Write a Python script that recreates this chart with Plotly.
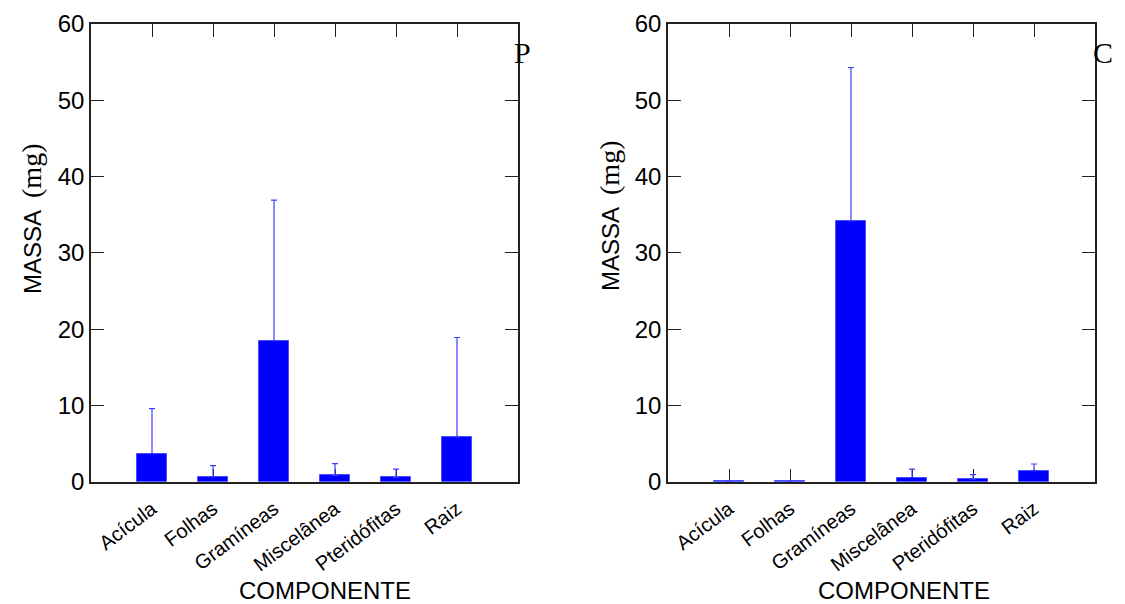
import plotly.graph_objects as go

categories = ["Acícula", "Folhas", "Gramíneas", "Miscelânea", "Pteridófitas", "Raiz"]
p_mean = [3.67, 0.66, 18.5, 0.84, 0.58, 5.86]
p_err_top = [9.57, 2.1, 36.9, 2.36, 1.66, 18.9]
c_mean = [0.05, 0.05, 34.2, 0.55, 0.33, 1.45]
c_err_top = [0.05, 0.05, 54.3, 1.64, 0.92, 2.32]
y_ticks = [0, 10, 20, 30, 40, 50, 60]
panel_labels = ["P", "C"]

x_idx = list(range(len(categories)))

fig = go.Figure()

def add_panel(mean, err_top, xa, ya):
    err = [t - m for t, m in zip(err_top, mean)]
    fig.add_trace(go.Bar(
        x=x_idx, y=mean, width=0.5,
        marker=dict(color="#0000ff", line=dict(color="#4d4dff", width=1)),
        error_y=dict(type="data", array=err, arrayminus=[0] * len(err), symmetric=False,
                     color="#3c3cff", thickness=1.2, width=3),
        xaxis=xa, yaxis=ya, showlegend=False, hoverinfo="skip",
    ))

add_panel(p_mean, p_err_top, "x", "y")
add_panel(c_mean, c_err_top, "x2", "y2")

xcommon = dict(range=[-1, 6], tickvals=x_idx, ticktext=categories, ticks="inside",
               ticklen=13, tickwidth=1.3, tickcolor="#222", showline=True, linecolor="#222",
               linewidth=1.5, mirror="allticks", tickangle=-37, showgrid=False, zeroline=False,
               tickfont=dict(family="Liberation Sans, Arial", size=20, color="black"),
               layer="below traces", automargin=False, ticklabelstandoff=6)
ycommon = dict(range=[0, 60], tickvals=y_ticks, ticks="inside", ticklen=13, tickwidth=1.3,
               tickcolor="#222", showline=True, linecolor="#222", linewidth=1.5,
               mirror="allticks", showgrid=False, zeroline=False, automargin=False,
               tickfont=dict(family="Liberation Sans, Arial", size=24, color="black"))

ydom = [1 - 481.7 / 604, 1 - 24 / 604]
fig.update_layout(
    width=1125, height=604, autosize=False,
    margin=dict(l=0, r=0, t=0, b=0, pad=0),
    paper_bgcolor="white", plot_bgcolor="white",
    xaxis=dict(domain=[91 / 1125, 518 / 1125], anchor="y", **xcommon),
    yaxis=dict(domain=ydom, anchor="x", **ycommon),
    xaxis2=dict(domain=[668 / 1125, 1095 / 1125], anchor="y2", **xcommon),
    yaxis2=dict(domain=ydom, anchor="x2", **ycommon),
    bargap=0,
)

ytitle = ('MASSA  <span style="font-family:Liberation Serif, Times New Roman;font-size:28px">'
          '(mg)</span>')
annos = [
    dict(x=31 / 1125, y=1 - 219 / 604, text=ytitle, textangle=-90),
    dict(x=609 / 1125, y=1 - 216 / 604, text=ytitle, textangle=-90),
    dict(x=325 / 1125, y=1 - 590 / 604, text="COMPONENTE"),
    dict(x=904 / 1125, y=1 - 590 / 604, text="COMPONENTE"),
]
for a in annos:
    fig.add_annotation(xref="paper", yref="paper", xanchor="center", yanchor="middle",
                       showarrow=False, font=dict(family="Liberation Sans, Arial", size=24, color="black"), **a)

for lab, xp in zip(panel_labels, [522, 1103]):
    fig.add_annotation(xref="paper", yref="paper", x=xp / 1125, y=1 - 53 / 604, text=lab,
                       showarrow=False, xanchor="center", yanchor="middle",
                       font=dict(family="Liberation Serif, Times New Roman", size=30, color="black"))

fig.write_html("out.html", config={"displayModeBar": False},
               post_script="document.body.style.margin='0';document.body.style.overflow='hidden';")
